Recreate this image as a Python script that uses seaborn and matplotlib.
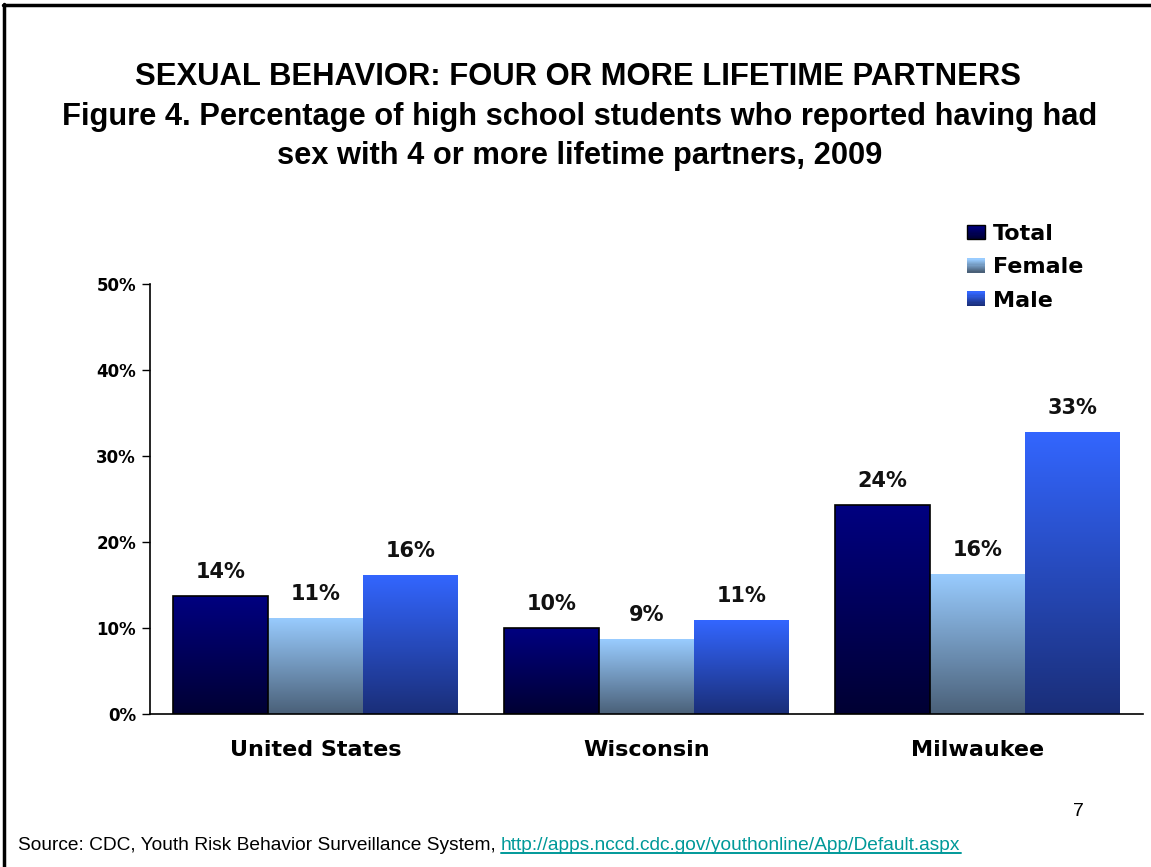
import numpy as np
import pandas as pd
import matplotlib
matplotlib.use("Agg")
import matplotlib.pyplot as plt
import seaborn as sns
from matplotlib.colors import LinearSegmentedColormap
from matplotlib.patches import Rectangle
from matplotlib.legend_handler import HandlerBase
from matplotlib.lines import Line2D

# Survey results (percent of high school students, 2009)
regions = ["United States", "Wisconsin", "Milwaukee"]
groups = ["Total", "Female", "Male"]
total_pct = [13.7, 10.0, 24.3]
female_pct = [11.2, 8.7, 16.3]
male_pct = [16.2, 10.9, 32.8]
y_ticks = [0, 10, 20, 30, 40, 50]

# Vertical gradients for each series: (bottom colour, top colour)
gradients = {
    "Total": ("#000033", "#000080"),
    "Female": ("#4a6078", "#99ccff"),
    "Male": ("#1a2e78", "#3366ff"),
}

df = pd.DataFrame({
    "Region": np.repeat(regions, 3),
    "Group": groups * 3,
    "Percent": [v for trio in zip(total_pct, female_pct, male_pct) for v in trio],
})

sns.set_theme(style="white")
plt.rcParams["font.family"] = ["Liberation Sans", "DejaVu Sans"]
plt.rcParams["text.color"] = "black"
plt.rcParams["xtick.color"] = "black"
plt.rcParams["ytick.color"] = "black"
plt.rcParams["axes.labelcolor"] = "black"

WIDE = ["DejaVu Sans"]   # wider face for the spaced-out chart labels

W, H = 1151, 867
fig = plt.figure(figsize=(W / 100, H / 100), dpi=100)
ax = fig.add_axes([150 / W, 1 - 714 / H, (1143 - 150) / W, (714 - 284) / H])

sns.barplot(data=df, x="Region", y="Percent", hue="Group", order=regions,
            hue_order=groups, width=0.86, gap=0, ax=ax, legend=False,
            palette=[gradients[g][1] for g in groups], saturation=1,
            edgecolor="none", linewidth=0)

ramp = np.linspace(0, 1, 256).reshape(-1, 1)
for container, g in zip(ax.containers, groups):
    cmap = LinearSegmentedColormap.from_list(g, list(gradients[g]))
    for bar in container:
        x0, y0 = bar.get_x(), bar.get_y()
        w, h = bar.get_width(), bar.get_height()
        im = ax.imshow(ramp, extent=[x0, x0 + w, y0, y0 + h], origin="lower",
                       aspect="auto", cmap=cmap, zorder=bar.get_zorder(),
                       interpolation="bilinear")
        im.set_clip_path(bar)
        bar.set_facecolor("none")
        if g == "Total":
            bar.set_edgecolor("black")
            bar.set_linewidth(1.2)
            bar.set_zorder(bar.get_zorder() + 1)
    ax.bar_label(container, labels=[f"{v:.0f}%" for v in container.datavalues],
                 padding=10, fontsize=15, fontweight="bold", color="#111111",
                 family=WIDE)

ax.set_xlim(-0.5, 2.5)
ax.set_ylim(0, 50)
ax.set_yticks(y_ticks)
ax.set_yticklabels([f"{t}%" for t in y_ticks], fontsize=12, fontweight="bold",
                   family=WIDE)
ax.set_xticks([0, 1, 2])
ax.set_xticklabels(regions, fontsize=16, fontweight="bold", family=WIDE)
ax.set_xticks([-0.5, 0.5, 1.5, 2.5], minor=True)
ax.tick_params(axis="x", which="major", length=0, pad=19)
ax.tick_params(axis="x", which="minor", length=6, width=1, direction="out", color="black")
ax.tick_params(axis="y", length=6, width=1, direction="out", color="black", pad=4, left=True)
ax.set_xlabel("")
ax.set_ylabel("")
for side in ["top", "right"]:
    ax.spines[side].set_visible(False)
for side in ["left", "bottom"]:
    ax.spines[side].set_color("black")
    ax.spines[side].set_linewidth(1.2)


class GradientHandler(HandlerBase):
    """Legend key drawn as a stack of thin strips forming a vertical gradient."""

    def __init__(self, lo, hi, n=12):
        super().__init__()
        self.cmap = LinearSegmentedColormap.from_list("k", [lo, hi])
        self.n = n

    def create_artists(self, legend, orig_handle, xdescent, ydescent, width,
                       height, fontsize, trans):
        side_w, side_h = width, height * 0.9
        x = -xdescent
        y = -ydescent + (height - side_h) / 2
        arts = []
        for i in range(self.n):
            r = Rectangle((x, y + side_h * i / self.n), side_w, side_h / self.n + 0.3,
                          facecolor=self.cmap(i / (self.n - 1)), edgecolor="none",
                          transform=trans)
            arts.append(r)
        if orig_handle.get_label() == "Total":
            arts.append(Rectangle((x, y), side_w, side_h, facecolor="none",
                                  edgecolor="black", linewidth=1, transform=trans))
        return arts


handles = [Line2D([], [], label=g) for g in groups]
fig.legend(handles=handles, labels=groups, loc="upper left",
           bbox_to_anchor=(947 / W, 1 - 204 / H), frameon=False,
           prop={"size": 16, "weight": "bold", "family": WIDE}, handlelength=0.8,
           handletextpad=0.35, labelspacing=0.6, borderpad=0.4,
           handler_map={h: GradientHandler(*gradients[g]) for h, g in zip(handles, groups)})

# Titles
fig.text(0.5 * (133 + 1023) / W, 1 - 77 / H,
         "SEXUAL BEHAVIOR: FOUR OR MORE LIFETIME PARTNERS",
         ha="center", va="center", fontsize=22.3, fontweight="bold")
fig.text(0.5 * (62 + 1097) / W, 1 - 117 / H,
         "Figure 4. Percentage of high school students who reported having had",
         ha="center", va="center", fontsize=22.2, fontweight="bold")
fig.text(0.5 * (62 + 1097) / W, 1 - 156 / H,
         "sex with 4 or more lifetime partners, 2009",
         ha="center", va="center", fontsize=22.2, fontweight="bold")

# Page number and source line
fig.text(1078 / W, 1 - 812 / H, "7", ha="center", va="center", fontsize=14)
src = fig.text(18 / W, 1 - 845 / H, "Source: CDC, Youth Risk Behavior Surveillance System, ",
               ha="left", va="center", fontsize=13.8)
fig.canvas.draw()
renderer = fig.canvas.get_renderer()
bb = src.get_window_extent(renderer)
url = fig.text(bb.x1 / W, 1 - 845 / H,
               "http://apps.nccd.cdc.gov/youthonline/App/Default.aspx",
               ha="left", va="center", fontsize=13.8, color="#009999")
ub = url.get_window_extent(renderer)
fig.add_artist(Line2D([ub.x0 / W, ub.x1 / W], [(ub.y0 + 1) / H] * 2,
                      transform=fig.transFigure, color="#009999", linewidth=1.4))

# Slide frame along top and left edges
fig.add_artist(Line2D([3 / W, 1], [1 - 5 / H] * 2, transform=fig.transFigure,
                      color="black", linewidth=2.5))
fig.add_artist(Line2D([4 / W] * 2, [0, 1 - 4 / H], transform=fig.transFigure,
                      color="black", linewidth=2.5))

fig.savefig("out.png", dpi=100, facecolor="white")
